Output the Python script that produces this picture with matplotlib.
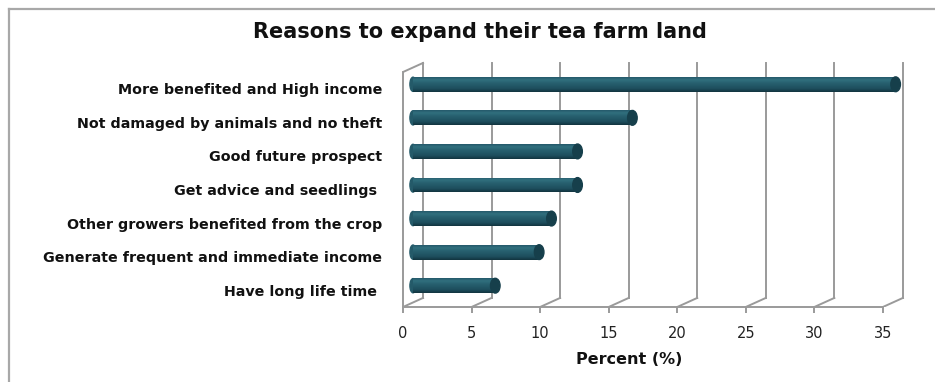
import numpy as np
import matplotlib
matplotlib.use("Agg")
import matplotlib.pyplot as plt
from matplotlib.colors import LinearSegmentedColormap
from matplotlib.patches import Ellipse
from matplotlib.lines import Line2D

title = "Reasons to expand their tea farm land"
xlabel = "Percent (%)"
# bottom to top, as drawn
reasons = ["Have long life time ",
           "Generate frequent and immediate income",
           "Other growers benefited from the crop",
           "Get advice and seedlings ",
           "Good future prospect",
           "Not damaged by animals and no theft",
           "More benefited and High income"]
percent = [6.0, 9.2, 10.1, 12.0, 12.0, 16.0, 35.2]
xticks = [0, 5, 10, 15, 20, 25, 30, 35]

grid_col = "#9a9a9a"
dx, dy = 1.46, 0.27      # depth offset of back wall (data units)
bar_h = 0.44

fig = plt.figure(figsize=(9.35, 3.82), dpi=100)
fig.patch.set_facecolor("white")

# outer frame (top and left edges only)
fig.add_artist(Line2D([9/935, 1.0], [1-9/382, 1-9/382], color="#a8a8a8", lw=1.6))
fig.add_artist(Line2D([9/935, 9/935], [0, 1-9/382], color="#a8a8a8", lw=1.6))

ax = fig.add_axes([403/935, 75/382, 507.3/935, 248.4/382])
ax.patch.set_visible(False)

n = len(reasons)
ypos = np.arange(n) + 0.5

# 3d-ish frame: back grid lines, floor diagonals, left wall
for t in xticks:
    ax.plot([t + dx, t + dx], [dy, n + dy], color=grid_col, lw=1.4, zorder=1)
    ax.plot([t, t + dx], [0, dy], color=grid_col, lw=1.4, zorder=1)
ax.plot([0, dx], [n, n + dy], color=grid_col, lw=1.4, zorder=1)

for s in ["top", "right"]:
    ax.spines[s].set_visible(False)
ax.spines["bottom"].set_bounds(0, 35)
ax.spines["left"].set_bounds(0, n)
for s in ["bottom", "left"]:
    ax.spines[s].set_color(grid_col)
    ax.spines[s].set_linewidth(1.4)

# cylinder bars
cmap = LinearSegmentedColormap.from_list(
    "cyl", [(0.0, "#12343f"), (0.22, "#1d4e5d"), (0.6, "#27606f"),
            (0.82, "#31707e"), (1.0, "#25596a")])
grad = np.linspace(0, 1, 64)[::-1].reshape(-1, 1)
bars = ax.barh(ypos + dy / 2, percent, left=dx / 2, height=bar_h,
               color="none", edgecolor="none", zorder=3)
for b in bars:
    x0, y0 = b.get_x(), b.get_y()
    x1, y1 = x0 + b.get_width(), y0 + b.get_height()
    ax.add_patch(Ellipse((x0, y0 + bar_h / 2), 0.45, bar_h * 0.96,
                         color="#245a69", zorder=2))
    im = ax.imshow(grad, extent=[x0, x1, y0, y1], aspect="auto",
                   cmap=cmap, zorder=3, interpolation="bilinear")
    im.set_clip_path(b)
    ax.add_patch(Ellipse((x1, y0 + bar_h / 2), 0.7, bar_h,
                         color="#163f4b", zorder=4))

ax.set_xlim(0, 37)
ax.set_ylim(0, 7.4)

ax.set_xticks(xticks)
ax.set_xticklabels([str(t) for t in xticks])
ax.tick_params(axis="x", direction="out", length=4, width=1.4,
               color=grid_col, labelsize=10.5, pad=10, labelcolor="#222222")
ax.set_yticks(ypos)
ax.set_yticklabels(reasons, fontweight="bold", fontsize=10.3, color="#111111")
ax.tick_params(axis="y", length=0, pad=15)

ax.set_xlabel(xlabel, fontsize=11.5, fontweight="bold", color="#111111")
ax.xaxis.set_label_coords((629 - 403) / 507.3, -0.18)
fig.text(480/935, 1 - 32/382, title, ha="center", va="center",
         fontsize=15, fontweight="bold", color="#111111")

fig.savefig("out.png", dpi=100)
